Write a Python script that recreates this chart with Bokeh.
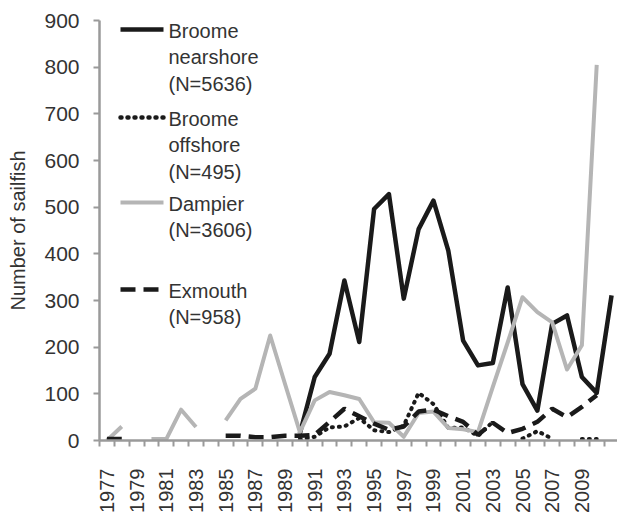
import math
from bokeh.plotting import figure
from bokeh.models import FixedTicker, Label, Arrow, Range1d
from bokeh.embed import file_html
from bokeh.resources import INLINE

nan = float("nan")

years = list(range(1977, 2012))

broome_nearshore = [nan] * 13 + [15, 136, 186, 343, 211, 496, 528, 304, 453, 514, 407,
                                 214, 161, 166, 328, 121, 64, 250, 268, 136, 102, 311]

broome_offshore = [nan] * 13 + [2, 8, 28, 30, 48, 22, 18, 32, 102, 78, 27,
                                28, 10, 40, nan, 4, 20, 4, nan, 3, 3, nan]

dampier = [0, 30, nan, 3, 3, 66, 29, nan, 43, 89, 111, 225, 121, 18, 86, 104, 97, 89,
           39, 38, 8, 59, 62, 27, 24, 18, 115, 210, 307, 275, 253, 152, 204, 805, nan]

exmouth = [3, 3] + [nan] * 6 + [10, 10, 7, 7, 10, 10, 12, 40, 68, 52, 36, 23, 30, 62, 66,
                                52, 40, 12, 38, 16, 25, 40, 68, 50, 72, 97] + [nan]

label_years = list(range(1977, 2010, 2))
y_ticks = list(range(0, 1000, 100))

legend_entries = [
    (["Broome", "nearshore", "(N=5636)"], "#1a1a1a", None),
    (["Broome", "offshore", "(N=495)"], "#1a1a1a", "1 6"),
    (["Dampier", "(N=3606)"], "#b5b5b5", None),
    (["Exmouth", "(N=958)"], "#1a1a1a", "15 8"),
]

# ---- layout ----
W, H = 617, 516
LEFT, TOP, BOTTOM = 99, 20, 76
X0, X1 = 1976.5, 2011.4
Y0, Y1 = 0, 900
FW = W - LEFT
FH = H - TOP - BOTTOM

def dx(px):
    return X0 + (px - LEFT) * (X1 - X0) / FW

def dy(py):
    return Y0 + (TOP + FH - py) * (Y1 - Y0) / FH

p = figure(width=W, height=H, output_backend="svg", toolbar_location=None,
           x_range=Range1d(X0, X1), y_range=Range1d(Y0, Y1),
           min_border_left=LEFT, min_border_top=TOP, min_border_bottom=BOTTOM,
           min_border_right=0)
p.outline_line_color = None
p.xgrid.visible = False
p.ygrid.visible = False
p.background_fill_color = "white"
p.border_fill_color = "white"

axis_col = "#9a9a9a"
text_col = "#333333"
font = "Liberation Sans"

# x axis
p.xaxis.ticker = FixedTicker(ticks=label_years,
                             minor_ticks=[y - 0.5 for y in years] + [years[-1] + 0.5])
p.xaxis.major_label_orientation = math.pi / 2
p.xaxis.major_tick_out = 0
p.xaxis.major_tick_in = 0
p.xaxis.minor_tick_out = 6
p.xaxis.minor_tick_in = 0
p.xaxis.minor_tick_line_color = axis_col
p.xaxis.minor_tick_line_width = 2
p.xaxis.axis_line_color = axis_col
p.xaxis.axis_line_width = 2.5
p.xaxis.major_label_standoff = 22
p.xaxis.major_label_text_font = font
p.xaxis.major_label_text_font_size = "20px"
p.xaxis.major_label_text_color = text_col

# y axis
p.yaxis.ticker = FixedTicker(ticks=y_ticks, minor_ticks=[])
p.yaxis.major_tick_out = 6
p.yaxis.major_tick_in = 0
p.yaxis.minor_tick_out = 0
p.yaxis.minor_tick_in = 0
p.yaxis.major_tick_line_color = axis_col
p.yaxis.major_tick_line_width = 2
p.yaxis.axis_line_color = axis_col
p.yaxis.axis_line_width = 2.5
p.yaxis.major_label_standoff = 14
p.yaxis.major_label_text_font = font
p.yaxis.major_label_text_font_size = "21px"
p.yaxis.major_label_text_color = text_col
p.yaxis.axis_label = "Number of sailfish"
p.yaxis.axis_label_text_font = font
p.yaxis.axis_label_text_font_style = "normal"
p.yaxis.axis_label_text_font_size = "20px"
p.yaxis.axis_label_text_color = text_col
p.yaxis.axis_label_standoff = 12

# series
p.line(years, broome_nearshore, line_color="#1a1a1a", line_width=4.5, line_join="round")
p.line(years, broome_offshore, line_color="#1a1a1a", line_width=4, line_dash="1 6",
       line_cap="round")
p.line(years, dampier, line_color="#b5b5b5", line_width=4, line_join="round")
p.line(years, exmouth, line_color="#1a1a1a", line_width=4.5, line_dash="15 8")

# legend (drawn manually)
sample_y = [29, 117, 202, 289]
line_step = 26.7
for (lines, col, dash), sy in zip(legend_entries, sample_y):
    kw = dict(line_color=col, line_width=4.5 if col != "#b5b5b5" else 4)
    if dash:
        kw["line_dash"] = dash
        if dash == "1 6":
            kw["line_cap"] = "round"
    p.add_layout(Arrow(end=None, x_start=dx(120), x_end=dx(163), y_start=dy(sy), y_end=dy(sy), **kw))
    for i, t in enumerate(lines):
        p.add_layout(Label(x=dx(168), y=dy(sy + 1 + i * line_step), text=t,
                           text_font=font, text_font_size="20px", text_color=text_col,
                           text_baseline="middle", text_align="left"))

open("out.html", "w").write(file_html(p, INLINE))
